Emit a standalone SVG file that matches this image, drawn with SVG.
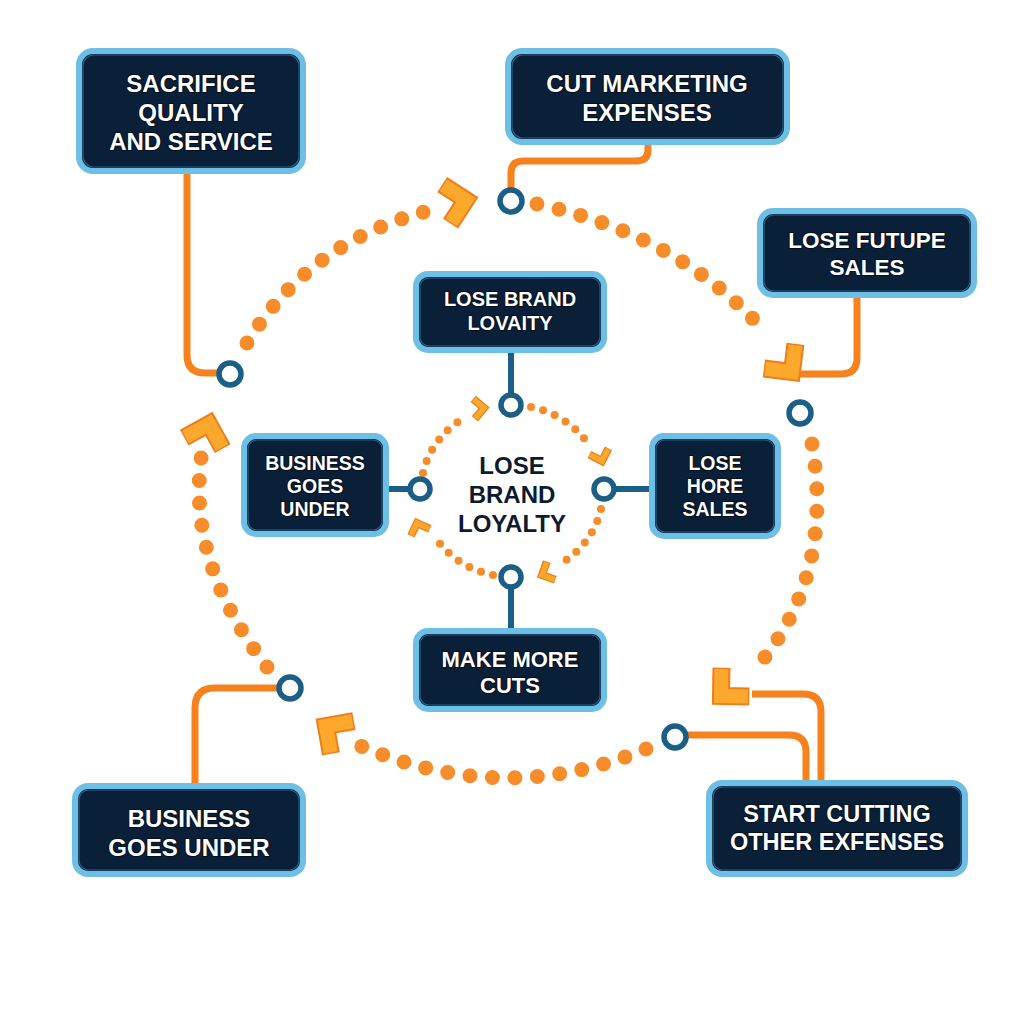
<svg xmlns="http://www.w3.org/2000/svg" xmlns:xlink="http://www.w3.org/1999/xlink" width="1024" height="1024" viewBox="0 0 1024 1024">
<defs>
<style>
.box{fill:#0a1f38;stroke:#6dbfe5;stroke-width:6}
.boxin{fill:none;stroke:#2b5f85;stroke-width:1.2}
.t{font-family:"Liberation Sans",Arial,sans-serif;font-weight:700;fill:#ffffff;text-anchor:middle;stroke:#04101f;stroke-width:2;paint-order:stroke}
.ct{font-family:"Liberation Sans",Arial,sans-serif;font-weight:700;fill:#0e1a2e;text-anchor:middle;stroke:#ffffff;stroke-width:5;paint-order:stroke;font-size:24px}
.oc{fill:none;stroke:#f5821f;stroke-width:7;stroke-linecap:butt;stroke-linejoin:round}
.bc{fill:none;stroke:#1b5e86;stroke-width:6}
.port{fill:#ffffff;stroke:#1b5e86;stroke-width:5.5}
.dots{fill:none;stroke:#f78d2a;stroke-width:15;stroke-linecap:round;stroke-dasharray:0 22.5}
.sdots{fill:none;stroke:#f78d2a;stroke-width:8;stroke-linecap:round;stroke-dasharray:0 12.5}
</style>
<g id="chev">
<path d="M-20,-20 L0,0 L-20,20" fill="none" stroke="#ef7d1c" stroke-width="18" stroke-linejoin="miter"/>
<path d="M-19,-19 L0,0 L-19,19" fill="none" stroke="#fba82c" stroke-width="14" stroke-linejoin="miter"/>
</g>
<g id="schev">
<path d="M-10,-10 L0,0 L-10,10" fill="none" stroke="#ef7d1c" stroke-width="8" stroke-linejoin="miter"/>
<path d="M-9.5,-9.5 L0,0 L-9.5,9.5" fill="none" stroke="#fba82c" stroke-width="5.5" stroke-linejoin="miter"/>
</g>
</defs>
<rect width="1024" height="1024" fill="#ffffff"/>

<g id="connectors">
<path class="oc" d="M187,174 V355 Q187,373 205,373 H222"/>
<path class="oc" d="M648,145 V150 Q648,161 636,161 H523 Q511,161 511,173 V190"/>
<path class="oc" d="M857,298 V358 Q857,374 841,374 H795"/>
<path class="oc" d="M821,780 V712 Q821,694 803,694 H752"/>
<path class="oc" d="M806,780 V752 Q806,735 789,735 H688"/>
<path class="oc" d="M195,783 V708 Q195,688 215,688 H278"/>
<path class="bc" d="M511,353 V394"/>
<path class="bc" d="M389,489 H409"/>
<path class="bc" d="M649,489 H615"/>
<path class="bc" d="M511,628 V588"/>

<path class="dots" d="M247,343 Q310,240 432,210"/>
<path class="dots" d="M537,204 Q680,235 766,333"/>
<path class="dots" d="M812,444 C825,520 815,600 756,668"/>
<path class="dots" d="M646,749 Q500,810 352,742"/>
<path class="dots" d="M267,667 Q185,560 202,452"/>

<path class="sdots" d="M531,407 A91 86 0 0 1 589,445"/>
<path class="sdots" d="M601,509 A91 86 0 0 1 560,564"/>
<path class="sdots" d="M493,575 A91 86 0 0 1 433,534"/>
<path class="sdots" d="M423,473 A91 86 0 0 1 464,418"/>

<use xlink:href="#chev" transform="translate(466,200) rotate(-12)"/>
<use xlink:href="#chev" transform="translate(792,372) rotate(52)"/>
<use xlink:href="#chev" transform="translate(721,696) rotate(136)"/>
<use xlink:href="#chev" transform="translate(326,726) rotate(-145)"/>
<use xlink:href="#chev" transform="translate(209,424) rotate(-74)"/>

<use xlink:href="#schev" transform="translate(484,408) rotate(-5)"/>
<use xlink:href="#schev" transform="translate(602,461) rotate(72)"/>
<use xlink:href="#schev" transform="translate(542,575) rotate(155)"/>
<use xlink:href="#schev" transform="translate(417,523) rotate(-110)"/>

<circle class="port" cx="230" cy="374" r="11"/>
<circle class="port" cx="511" cy="201" r="11"/>
<circle class="port" cx="800" cy="413" r="11"/>
<circle class="port" cx="675" cy="737" r="11"/>
<circle class="port" cx="290" cy="688" r="11"/>
<circle class="port" cx="511" cy="405" r="10"/>
<circle class="port" cx="420" cy="489" r="10"/>
<circle class="port" cx="604" cy="489" r="10"/>
<circle class="port" cx="511" cy="577" r="10"/>
</g>

<g id="node-sacrifice">
<rect class="box" x="79" y="51" width="224" height="120" rx="14"/>
<rect class="boxin" x="83" y="55" width="216" height="112" rx="11"/>
<text class="t" font-size="24" x="191" y="92">SACRIFICE</text>
<text class="t" font-size="24" x="191" y="121">QUALITY</text>
<text class="t" font-size="24" x="191" y="150">AND SERVICE</text>
</g>
<g id="node-cut-marketing">
<rect class="box" x="508" y="51" width="279" height="91" rx="14"/>
<rect class="boxin" x="512" y="55" width="271" height="83" rx="11"/>
<text class="t" font-size="24" x="647" y="92">CUT MARKETING</text>
<text class="t" font-size="24" x="647" y="121">EXPENSES</text>
</g>
<g id="node-lose-future">
<rect class="box" x="760" y="211" width="214" height="84" rx="13"/>
<rect class="boxin" x="764" y="215" width="206" height="76" rx="10"/>
<text class="t" font-size="22.5" x="867" y="248">LOSE FUTUPE</text>
<text class="t" font-size="22.5" x="867" y="275">SALES</text>
</g>
<g id="node-lose-brand">
<rect class="box" x="416" y="274" width="188" height="76" rx="12"/>
<rect class="boxin" x="420" y="278" width="180" height="68" rx="9"/>
<text class="t" font-size="20" x="510" y="306">LOSE BRAND</text>
<text class="t" font-size="20" x="510" y="330">LOVAITY</text>
</g>
<g id="node-business-small">
<rect class="box" x="244" y="436" width="142" height="98" rx="12"/>
<rect class="boxin" x="248" y="440" width="134" height="90" rx="9"/>
<text class="t" font-size="19.5" x="315" y="470">BUSINESS</text>
<text class="t" font-size="19.5" x="315" y="493">GOES</text>
<text class="t" font-size="19.5" x="315" y="516">UNDER</text>
</g>
<g id="node-lose-hore">
<rect class="box" x="652" y="436" width="126" height="100" rx="12"/>
<rect class="boxin" x="656" y="440" width="118" height="92" rx="9"/>
<text class="t" font-size="19.5" x="715" y="470">LOSE</text>
<text class="t" font-size="19.5" x="715" y="493">HORE</text>
<text class="t" font-size="19.5" x="715" y="516">SALES</text>
</g>
<g id="node-make-more">
<rect class="box" x="416" y="631" width="188" height="78" rx="12"/>
<rect class="boxin" x="420" y="635" width="180" height="70" rx="9"/>
<text class="t" font-size="22" x="510" y="667">MAKE MORE</text>
<text class="t" font-size="22" x="510" y="693">CUTS</text>
</g>
<g id="node-business-bottom">
<rect class="box" x="75" y="786" width="228" height="88" rx="13"/>
<rect class="boxin" x="79" y="790" width="220" height="80" rx="10"/>
<text class="t" font-size="24" x="189" y="827">BUSINESS</text>
<text class="t" font-size="24" x="189" y="856">GOES UNDER</text>
</g>
<g id="node-start-cutting">
<rect class="box" x="709" y="783" width="256" height="91" rx="13"/>
<rect class="boxin" x="713" y="787" width="248" height="83" rx="10"/>
<text class="t" font-size="23.5" x="837" y="822">START CUTTING</text>
<text class="t" font-size="23.5" x="837" y="850">OTHER EXFENSES</text>
</g>
<g id="node-center">
<text class="ct" x="512" y="474">LOSE</text>
<text class="ct" x="512" y="503">BRAND</text>
<text class="ct" x="512" y="532">LOYALTY</text>
</g>
</svg>
